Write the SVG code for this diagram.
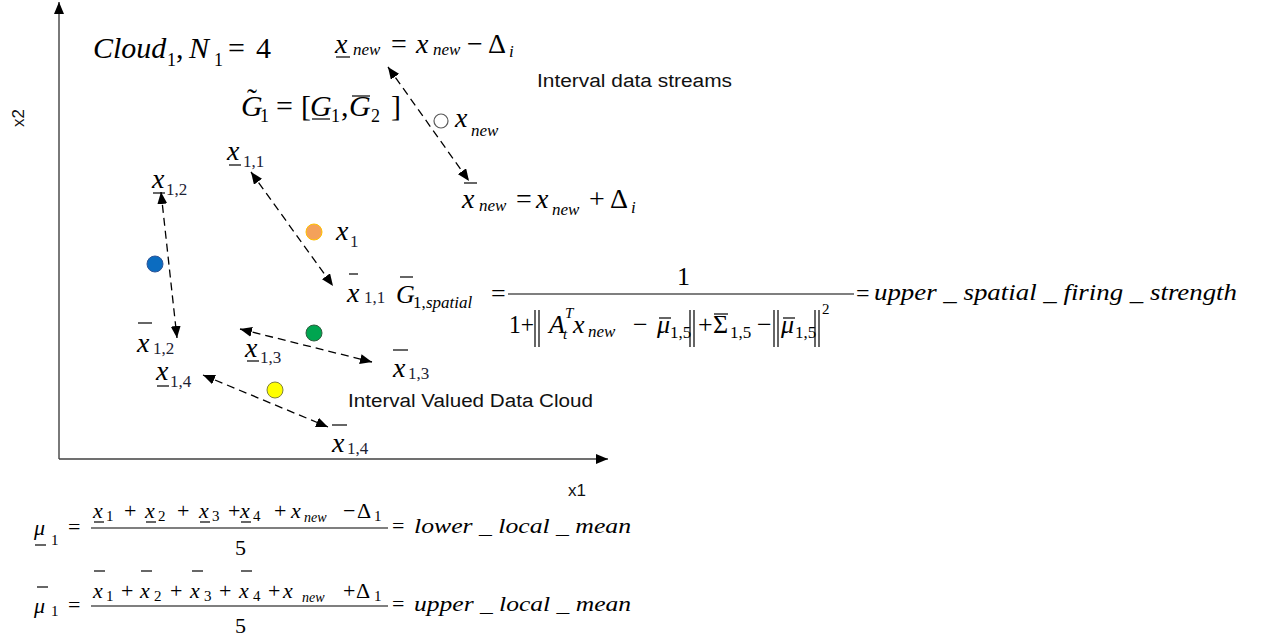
<svg xmlns="http://www.w3.org/2000/svg" width="1272" height="641" viewBox="0 0 1272 641">
  <defs>
    <marker id="ah" viewBox="0 0 12 10" refX="12" refY="5" markerWidth="12" markerHeight="10" markerUnits="userSpaceOnUse" orient="auto-start-reverse">
      <path d="M0,0 L12,5 L0,10 z" fill="#000"/>
    </marker>
  </defs>
  <rect width="1272" height="641" fill="#fff"/>

  <!-- axes -->
  <g id="axes" stroke="#404040" stroke-width="1.4" fill="none">
    <line x1="59" y1="459" x2="59" y2="2" marker-end="url(#ah)"/>
    <line x1="59" y1="459" x2="608" y2="459" marker-end="url(#ah)"/>
  </g>
  <text font-family="Liberation Sans" font-size="17" fill="#111" x="568" y="496">x1</text>
  <text font-family="Liberation Sans" font-size="17" fill="#111" transform="translate(24,118) rotate(-90)" text-anchor="middle">x2</text>

  <!-- interval connectors -->
  <g id="connectors" stroke="#000" stroke-width="1.3" stroke-dasharray="8 5" fill="none">
    <line x1="388" y1="67" x2="469" y2="181" marker-start="url(#ah)" marker-end="url(#ah)"/>
    <line x1="251" y1="172" x2="333" y2="286" marker-start="url(#ah)" marker-end="url(#ah)"/>
    <line x1="161" y1="192" x2="177" y2="338" marker-start="url(#ah)" marker-end="url(#ah)"/>
    <line x1="240" y1="329" x2="372" y2="362" marker-start="url(#ah)" marker-end="url(#ah)"/>
    <line x1="203" y1="375" x2="328" y2="427" marker-start="url(#ah)" marker-end="url(#ah)"/>
  </g>

  <!-- cloud title -->
  <g id="cloud-title">
    <text font-family="Liberation Serif" font-style="italic" font-size="30" x="93" y="58">Cloud</text>
    <text font-family="Liberation Serif" font-size="18" x="167" y="66">1</text>
    <text font-family="Liberation Serif" font-size="30" x="176" y="58">,</text>
    <text font-family="Liberation Serif" font-style="italic" font-size="30" x="189" y="58">N</text>
    <text font-family="Liberation Serif" font-size="18" x="214" y="66">1</text>
    <text font-family="Liberation Serif" font-size="30" x="228" y="58">=</text>
    <text font-family="Liberation Serif" font-size="30" x="256" y="58">4</text>
  </g>

  <!-- lower bound of the new sample -->
  <g id="xnew-lower">
    <text font-family="Liberation Serif" font-style="italic" font-size="28" x="335" y="53">x</text>
    <line x1="336" y1="57" x2="350" y2="57" stroke="#000" stroke-width="1.2"/>
    <text font-family="Liberation Serif" font-style="italic" font-size="17" x="353" y="55">new</text>
    <text font-family="Liberation Serif" font-size="28" x="391" y="53">=</text>
    <text font-family="Liberation Serif" font-style="italic" font-size="28" x="416" y="53">x</text>
    <text font-family="Liberation Serif" font-style="italic" font-size="17" x="433" y="55">new</text>
    <text font-family="Liberation Serif" font-size="28" x="467" y="53">−</text>
    <text font-family="Liberation Serif" font-size="28" x="488" y="53">Δ</text>
    <text font-family="Liberation Serif" font-style="italic" font-size="17" x="509" y="57">i</text>
  </g>

  <!-- interval granule -->
  <g id="granule">
    <text font-family="Liberation Serif" font-style="italic" font-size="30" x="241" y="116">G</text>
    <text font-family="Liberation Serif" font-size="30" x="247" y="109">˜</text>
    <text font-family="Liberation Serif" font-size="18" x="260" y="122">1</text>
    <text font-family="Liberation Serif" font-size="30" x="276" y="116">=</text>
    <text font-family="Liberation Serif" font-size="30" x="301" y="116">[</text>
    <text font-family="Liberation Serif" font-style="italic" font-size="30" x="310" y="116">G</text>
    <line x1="312" y1="119" x2="330" y2="119" stroke="#000" stroke-width="1.2"/>
    <text font-family="Liberation Serif" font-size="18" x="331" y="122">1</text>
    <text font-family="Liberation Serif" font-size="30" x="341" y="116">,</text>
    <text font-family="Liberation Serif" font-style="italic" font-size="30" x="349" y="116">G</text>
    <line x1="352" y1="96" x2="370" y2="96" stroke="#000" stroke-width="1.2"/>
    <text font-family="Liberation Serif" font-size="18" x="371" y="122">2</text>
    <text font-family="Liberation Serif" font-size="30" x="391" y="116">]</text>
  </g>

  <text font-family="Liberation Sans" font-size="18" fill="#111" x="537" y="87" textLength="195" lengthAdjust="spacingAndGlyphs">Interval data streams</text>

  <!-- new sample -->
  <g id="node-xnew">
    <circle cx="441" cy="121" r="7" fill="#fff" stroke="#595959" stroke-width="1.2"/>
    <text font-family="Liberation Serif" font-style="italic" font-size="28" x="455" y="127">x</text>
    <text font-family="Liberation Serif" font-style="italic" font-size="17" x="471" y="136">new</text>
  </g>

  <!-- upper bound of the new sample -->
  <g id="xnew-upper">
    <line x1="464" y1="183" x2="477" y2="183" stroke="#000" stroke-width="1.2"/>
    <text font-family="Liberation Serif" font-style="italic" font-size="28" x="462" y="208">x</text>
    <text font-family="Liberation Serif" font-style="italic" font-size="17" x="479" y="211">new</text>
    <text font-family="Liberation Serif" font-size="28" x="516" y="208">=</text>
    <text font-family="Liberation Serif" font-style="italic" font-size="28" x="536" y="208">x</text>
    <text font-family="Liberation Serif" font-style="italic" font-size="17" x="552" y="215">new</text>
    <text font-family="Liberation Serif" font-size="28" x="589" y="208">+</text>
    <text font-family="Liberation Serif" font-size="28" x="610" y="208">Δ</text>
    <text font-family="Liberation Serif" font-style="italic" font-size="17" x="631" y="213">i</text>
  </g>

  <!-- samples of the cloud -->
  <g id="node-x1">
    <circle cx="314" cy="232" r="8" fill="#F4A15A" stroke="#FFC000" stroke-width="1"/>
    <text font-family="Liberation Serif" font-style="italic" font-size="28" x="336" y="240">x</text>
    <text font-family="Liberation Serif" font-size="17" fill="#1c2233" x="350" y="247">1</text>
  </g>
  <g id="node-x2">
    <circle cx="155" cy="264" r="8" fill="#0B6CC0" stroke="#2F5597" stroke-width="1"/>
  </g>
  <g id="node-x3">
    <circle cx="314" cy="333" r="8" fill="#00A550" stroke="#2E5E3E" stroke-width="1"/>
  </g>
  <g id="node-x4">
    <circle cx="275" cy="390" r="8" fill="#FFFF00" stroke="#7F7F3F" stroke-width="1"/>
  </g>

  <!-- interval bounds -->
  <g id="bound-11-lower">
    <text font-family="Liberation Serif" font-style="italic" font-size="28" x="227" y="160">x</text>
    <line x1="229" y1="165" x2="241" y2="165" stroke="#000" stroke-width="1.2"/>
    <text font-family="Liberation Serif" font-size="17" fill="#1c2233" x="243" y="167">1,1</text>
  </g>
  <g id="bound-11-upper">
    <line x1="349" y1="274" x2="358" y2="274" stroke="#000" stroke-width="1.2"/>
    <text font-family="Liberation Serif" font-style="italic" font-size="28" x="347" y="302">x</text>
    <text font-family="Liberation Serif" font-size="17" fill="#1c2233" x="364" y="303">1,1</text>
  </g>
  <g id="bound-12-lower">
    <text font-family="Liberation Serif" font-style="italic" font-size="28" x="152" y="188">x</text>
    <line x1="153" y1="193" x2="165" y2="193" stroke="#000" stroke-width="1.2"/>
    <text font-family="Liberation Serif" font-size="17" fill="#1c2233" x="166" y="195">1,2</text>
  </g>
  <g id="bound-12-upper">
    <line x1="138" y1="323" x2="152" y2="323" stroke="#000" stroke-width="1.2"/>
    <text font-family="Liberation Serif" font-style="italic" font-size="28" x="137" y="352">x</text>
    <text font-family="Liberation Serif" font-size="17" fill="#1c2233" x="153" y="354">1,2</text>
  </g>
  <g id="bound-13-lower">
    <text font-family="Liberation Serif" font-style="italic" font-size="28" x="245" y="357">x</text>
    <line x1="247" y1="361" x2="259" y2="361" stroke="#000" stroke-width="1.2"/>
    <text font-family="Liberation Serif" font-size="17" fill="#1c2233" x="260" y="363">1,3</text>
  </g>
  <g id="bound-13-upper">
    <line x1="393" y1="350" x2="408" y2="350" stroke="#000" stroke-width="1.2"/>
    <text font-family="Liberation Serif" font-style="italic" font-size="28" x="393" y="377">x</text>
    <text font-family="Liberation Serif" font-size="17" fill="#1c2233" x="408" y="379">1,3</text>
  </g>
  <g id="bound-14-lower">
    <text font-family="Liberation Serif" font-style="italic" font-size="28" x="156" y="380">x</text>
    <line x1="157" y1="386" x2="169" y2="386" stroke="#000" stroke-width="1.2"/>
    <text font-family="Liberation Serif" font-size="17" fill="#1c2233" x="170" y="387">1,4</text>
  </g>
  <g id="bound-14-upper">
    <line x1="332" y1="425" x2="347" y2="425" stroke="#000" stroke-width="1.2"/>
    <text font-family="Liberation Serif" font-style="italic" font-size="28" x="332" y="452">x</text>
    <text font-family="Liberation Serif" font-size="17" fill="#1c2233" x="347" y="454">1,4</text>
  </g>

  <text font-family="Liberation Sans" font-size="18" fill="#111" x="348" y="407" textLength="245" lengthAdjust="spacingAndGlyphs">Interval Valued Data Cloud</text>

  <!-- upper spatial firing strength -->
  <g id="firing-strength">
    <g stroke="#000" stroke-width="1.2" fill="none">
      <line x1="400" y1="277" x2="413" y2="277"/>
      <line x1="508" y1="294" x2="854" y2="294"/>
      <path d="M535,310 V347 M539,310 V347"/>
      <line x1="659" y1="318" x2="671" y2="318"/>
      <path d="M690,310 V347 M694,310 V347"/>
      <line x1="714" y1="314" x2="728" y2="314"/>
      <path d="M774,310 V347 M778,310 V347"/>
      <line x1="783" y1="318" x2="795" y2="318"/>
      <path d="M815,310 V347 M819,310 V347"/>
    </g>
    <text font-family="Liberation Serif" font-style="italic" font-size="26" x="396" y="303">G</text>
    <text font-family="Liberation Serif" font-size="17" x="413" y="308">1,</text>
    <text font-family="Liberation Serif" font-style="italic" font-size="17" x="426" y="308">spatial</text>
    <text font-family="Liberation Serif" font-size="26" x="491" y="302">=</text>
    <text font-family="Liberation Serif" font-size="26" x="677" y="285">1</text>
    <text font-family="Liberation Serif" font-size="26" x="509" y="333" textLength="25" lengthAdjust="spacingAndGlyphs">1+</text>
    <text font-family="Liberation Serif" font-style="italic" font-size="26" x="549" y="333">A</text>
    <text font-family="Liberation Serif" font-style="italic" font-size="15" x="565" y="318">T</text>
    <text font-family="Liberation Serif" font-style="italic" font-size="15" x="563" y="339">t</text>
    <text font-family="Liberation Serif" font-style="italic" font-size="26" x="573" y="333">x</text>
    <text font-family="Liberation Serif" font-style="italic" font-size="17" x="588" y="337">new</text>
    <text font-family="Liberation Serif" font-size="26" x="633" y="333">−</text>
    <text font-family="Liberation Serif" font-style="italic" font-size="26" x="657" y="333">μ</text>
    <text font-family="Liberation Serif" font-size="17" x="670" y="338">1,5</text>
    <text font-family="Liberation Serif" font-size="26" x="698" y="333">+</text>
    <text font-family="Liberation Serif" font-size="26" x="713" y="333">Σ</text>
    <text font-family="Liberation Serif" font-size="17" x="730" y="338">1,5</text>
    <text font-family="Liberation Serif" font-size="26" x="757" y="333">−</text>
    <text font-family="Liberation Serif" font-style="italic" font-size="26" x="781" y="333">μ</text>
    <text font-family="Liberation Serif" font-size="17" x="795" y="338">1,5</text>
    <text font-family="Liberation Serif" font-size="15" x="822" y="314">2</text>
    <text font-family="Liberation Serif" font-size="24" x="856" y="301">=</text>
    <text font-family="Liberation Serif" font-style="italic" font-size="24" x="874" y="300" textLength="363" lengthAdjust="spacingAndGlyphs">upper _ spatial _ firing _ strength</text>
  </g>

  <!-- lower local mean -->
  <g id="lower-mean">
    <g stroke="#000" stroke-width="1.2" fill="none">
      <line x1="35" y1="545" x2="46" y2="545"/>
      <line x1="91" y1="528" x2="388" y2="528"/>
      <line x1="94" y1="522" x2="104" y2="522"/>
      <line x1="146" y1="522" x2="156" y2="522"/>
      <line x1="200" y1="522" x2="210" y2="522"/>
      <line x1="241" y1="522" x2="251" y2="522"/>
    </g>
    <text font-family="Liberation Serif" font-style="italic" font-size="22" x="34" y="535">μ</text>
    <text font-family="Liberation Serif" font-size="15" x="51" y="545">1</text>
    <text font-family="Liberation Serif" font-size="22" x="68" y="534">=</text>
    <text font-family="Liberation Serif" font-style="italic" font-size="22" x="93" y="518">x</text>
    <text font-family="Liberation Serif" font-size="15" x="106" y="521">1</text>
    <text font-family="Liberation Serif" font-size="22" x="124" y="518">+</text>
    <text font-family="Liberation Serif" font-style="italic" font-size="22" x="145" y="518">x</text>
    <text font-family="Liberation Serif" font-size="15" x="158" y="521">2</text>
    <text font-family="Liberation Serif" font-size="22" x="177" y="518">+</text>
    <text font-family="Liberation Serif" font-style="italic" font-size="22" x="199" y="518">x</text>
    <text font-family="Liberation Serif" font-size="15" x="212" y="521">3</text>
    <text font-family="Liberation Serif" font-size="22" x="228" y="518">+</text>
    <text font-family="Liberation Serif" font-style="italic" font-size="22" x="240" y="518">x</text>
    <text font-family="Liberation Serif" font-size="15" x="253" y="521">4</text>
    <text font-family="Liberation Serif" font-size="22" x="274" y="518">+</text>
    <text font-family="Liberation Serif" font-style="italic" font-size="22" x="291" y="518">x</text>
    <text font-family="Liberation Serif" font-style="italic" font-size="14" x="304" y="522">new</text>
    <text font-family="Liberation Serif" font-size="22" x="343" y="518">−</text>
    <text font-family="Liberation Serif" font-size="22" x="357" y="518">Δ</text>
    <text font-family="Liberation Serif" font-size="15" x="374" y="521">1</text>
    <text font-family="Liberation Serif" font-size="22" x="235" y="555">5</text>
    <text font-family="Liberation Serif" font-size="22" x="392" y="533">=</text>
    <text font-family="Liberation Serif" font-style="italic" font-size="22" x="414" y="533" textLength="217" lengthAdjust="spacingAndGlyphs">lower _ local _ mean</text>
  </g>

  <!-- upper local mean -->
  <g id="upper-mean">
    <g stroke="#000" stroke-width="1.2" fill="none">
      <line x1="37" y1="587" x2="48" y2="587"/>
      <line x1="91" y1="606" x2="388" y2="606"/>
      <line x1="94" y1="571" x2="105" y2="571"/>
      <line x1="141" y1="571" x2="152" y2="571"/>
      <line x1="192" y1="571" x2="203" y2="571"/>
      <line x1="241" y1="571" x2="252" y2="571"/>
    </g>
    <text font-family="Liberation Serif" font-style="italic" font-size="22" x="34" y="613">μ</text>
    <text font-family="Liberation Serif" font-size="15" x="51" y="616">1</text>
    <text font-family="Liberation Serif" font-size="22" x="68" y="612">=</text>
    <text font-family="Liberation Serif" font-style="italic" font-size="22" x="93" y="598">x</text>
    <text font-family="Liberation Serif" font-size="15" x="106" y="601">1</text>
    <text font-family="Liberation Serif" font-size="22" x="121" y="598">+</text>
    <text font-family="Liberation Serif" font-style="italic" font-size="22" x="140" y="598">x</text>
    <text font-family="Liberation Serif" font-size="15" x="154" y="601">2</text>
    <text font-family="Liberation Serif" font-size="22" x="170" y="598">+</text>
    <text font-family="Liberation Serif" font-style="italic" font-size="22" x="190" y="598">x</text>
    <text font-family="Liberation Serif" font-size="15" x="204" y="601">3</text>
    <text font-family="Liberation Serif" font-size="22" x="219" y="598">+</text>
    <text font-family="Liberation Serif" font-style="italic" font-size="22" x="239" y="598">x</text>
    <text font-family="Liberation Serif" font-size="15" x="253" y="601">4</text>
    <text font-family="Liberation Serif" font-size="22" x="268" y="598">+</text>
    <text font-family="Liberation Serif" font-style="italic" font-size="22" x="283" y="598">x</text>
    <text font-family="Liberation Serif" font-style="italic" font-size="14" x="302" y="602">new</text>
    <text font-family="Liberation Serif" font-size="22" x="343" y="598">+</text>
    <text font-family="Liberation Serif" font-size="22" x="356" y="598">Δ</text>
    <text font-family="Liberation Serif" font-size="15" x="374" y="601">1</text>
    <text font-family="Liberation Serif" font-size="22" x="235" y="633">5</text>
    <text font-family="Liberation Serif" font-size="22" x="392" y="611">=</text>
    <text font-family="Liberation Serif" font-style="italic" font-size="22" x="414" y="611" textLength="217" lengthAdjust="spacingAndGlyphs">upper _ local _ mean</text>
  </g>
</svg>
